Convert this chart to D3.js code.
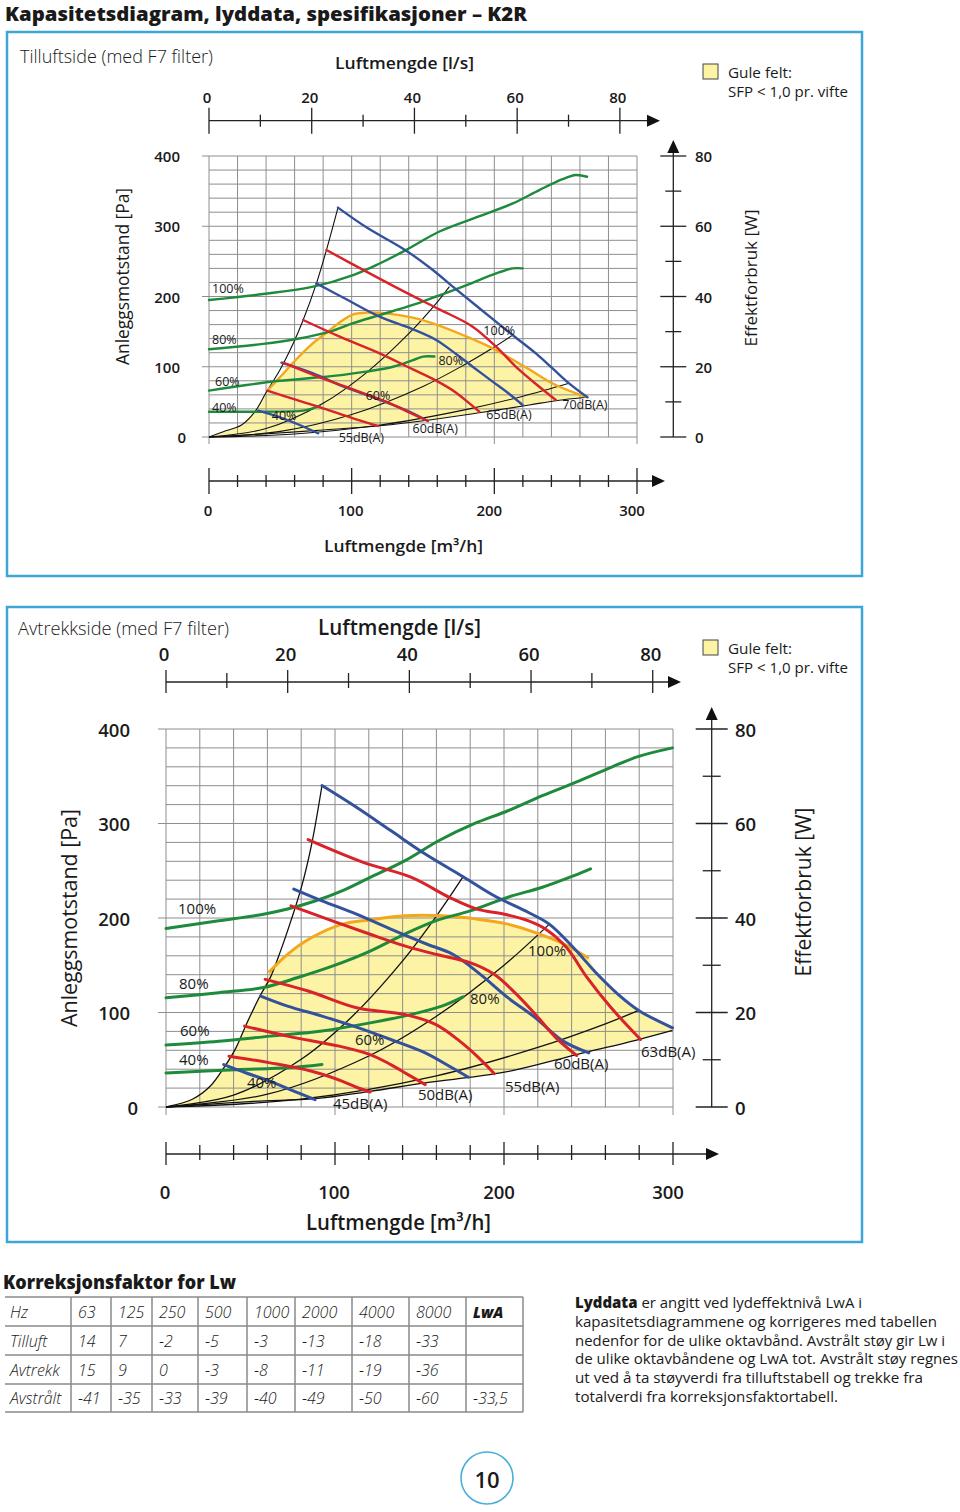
<!DOCTYPE html>
<html><head><meta charset="utf-8">
<script src="https://cdn.jsdelivr.net/npm/d3@7"></script>
<style>
body{margin:0;background:#fff}
svg{display:block}
text{font-family:"Open Sans","Noto Sans",sans-serif;fill:#1a1a1a}
</style>
</head><body>
<svg id="c" width="960" height="1512"></svg>
<script>
// ---------------- DATA (x = m³/h, y = Pa, power curves in W) ----------------
const flowTicks = [0,20,40,60,80,100,120,140,160,180,200,220,240,260,280,300];
const flowLabels = [0,100,200,300];
const paTicks = [0,20,40,60,80,100,120,140,160,180,200,220,240,260,280,300,320,340,360,380,400];
const paLabels = [0,100,200,300,400];
const lsTicks = [0,10,20,30,40,50,60,70,80];
const lsLabels = [0,20,40,60,80];
const wTicks = [0,10,20,30,40,50,60,70,80];
const wLabels = [0,20,40,60,80];

// --- Tilluft (top chart)
const tilGreen100 = [[0,39],[38,40.7],[73,42.8],[101,46.1],[119.6,49.4],[138,53.2],[161.5,58.5],[185,62.2],[213,66.5],[231.5,70.3],[247.8,73.4],[257,74.6],[265,74.1]];
const tilGreen80 = [[0,25],[38,26.5],[61.3,27.9],[84.6,30],[101,32.4],[119.6,34.7],[142.9,37.6],[159.2,40],[177.9,42.8],[201.2,46.6],[212.8,48],[219.8,48]];
const tilGreen60 = [[0,13.2],[26.3,14.8],[49.7,16],[77.6,17],[94,17.7],[110,18.6],[129,20],[143,21.9],[150,22.9],[158,22.9]];
const tilGreen40 = [[0,7.2],[38,7.2],[66,7.5],[73,8.2],[77.6,8.9]];
const tilLeft = [[0,0],[10,7.6],[22.8,17],[32.2,36],[40.3,64.5],[49.7,95.4],[59,133],[66,166.5],[75.3,218.7],[82.3,266],[90.4,326.5]];
const tilBottom = [[0,0],[38,4.3],[80,10],[119.6,16],[154.5,24.2],[189.5,34.6],[224.5,45.5],[243,51.7],[265.3,56.5]];
const tilSysA = [[0,0],[40,12],[80,48],[110,91],[140,147],[160,192],[168.5,214]];
const tilSysB = [[0,0],[50,8],[100,32],[150,72],[180,104],[200,128],[212.8,145]];
const tilSysC = [[0,0],[60,4.3],[120,17],[180,39],[220,58],[252.4,76.4]];
const tilOrange = [[40.8,66],[49.7,85],[59,105.8],[70.6,129.5],[82.3,148.5],[94,166.5],[101,174.6],[110.3,177],[124.2,176],[142.9,169.9],[156.9,161.8],[177.9,145.2],[198.8,126.2],[222,99.2],[243,74],[265.3,56.5]];
const tilBlue100 = [[90.4,326.5],[110.3,298.5],[138.2,265.2],[156.9,237.7],[170.9,214],[189.5,183.2],[212.8,145.2],[229.1,119.1],[240.8,97.7],[252.4,76.4],[265.3,56.5]];
const tilBlue80 = [[75.3,218.7],[96.3,196],[119.6,171.3],[142.9,153.3],[159.2,138.1],[173.2,118.1],[184.8,100.1],[198.8,78.8],[210.5,61.2],[219.8,45.6]];
const tilBlue60 = [[50.8,105.8],[73,90.6],[91.6,74],[110.3,59.8],[128.9,45.6],[142.9,33.7],[153.4,22.8]];
const tilBlue40 = [[34.5,37.5],[49.7,28],[63.6,17.1],[76.5,5.2]];
const tilRed70 = [[82.3,266.2],[110.3,235.4],[138.2,205.5],[161.5,181.7],[184.8,157.1],[201.2,128.6],[217.5,95.4],[231.5,71.6],[243.1,52.7]];
const tilRed65 = [[66,166.5],[91.6,142.8],[119.6,119.1],[142.9,96.3],[159.2,80.2],[173.2,63.1],[182.5,47.9],[189.5,36.1]];
const tilRed60 = [[52,105.8],[77.6,84.9],[103.3,66],[124.2,50.3],[140.6,34.6],[153.4,22.8]];
const tilRed55 = [[40.8,66],[61.3,52.7],[80,40.8],[101,26.6],[118.4,15.7]];
const tilGreenLabels = [["100%",2.1,212],["80%",2.1,139.5],["60%",4.2,78.3],["40%",2.1,42.7]];
const tilBlueLabels = [["40%",44,31.3],["60%",109.8,58.4],["80%",160.8,108.2],["100%",192.3,150.9]];
const tilDbLabels = [["55dB(A)",90.9,0],["60dB(A)",142.7,11.4],["65dB(A)",194.4,32.7],["70dB(A)",247.6,45.6]];

// --- Avtrekk (bottom chart)
const avtGreen100 = [[0,37.8],[31.2,39.4],[57.7,40.8],[71.9,41.9],[88.2,43.6],[104.5,45.8],[120.8,48.6],[141.2,52.1],[161.6,56.4],[182,59.9],[202.3,62.7],[222.7,65.9],[243,68.8],[263.4,71.9],[279.7,74.2],[299.7,76]];
const avtGreen80 = [[0,23.1],[31.2,24.2],[57.7,25.3],[78,27.4],[98.4,29.8],[120.8,33],[141.2,36.6],[159.5,39.4],[179.9,41.5],[202.3,44.4],[222.7,46.5],[241,48.9],[251.2,50.4]];
const avtGreen60 = [[0,13.1],[31.2,13.9],[61.7,15],[92.3,16.1],[120.8,17.8],[145.3,19.6],[163.6,21.4],[175.8,23.3]];
const avtGreen40 = [[0,7.2],[41.4,7.9],[71.9,8.3],[92.3,9]];
const avtLeft = [[0,0],[15.9,8.5],[26.1,21.9],[34.2,41.4],[41.4,62.6],[47.5,87.4],[55.6,117.4],[61.7,136.9],[67.8,165.2],[73.9,197],[80.1,232.4],[86.2,278.3],[92.3,340.2]];
const avtBottom = [[0,0],[51.5,6],[88.2,8.8],[120.8,16.6],[153.4,25.5],[200.3,36.8],[243,55.5],[279.7,71.4],[299.7,81]];
const avtSysA = [[0,0],[40,12.6],[80,50.5],[110,95.5],[140,154.6],[160,202],[175.8,243.7]];
const avtSysB = [[0,0],[60,13.5],[120,54],[160,96],[200,150],[226.8,193.5]];
const avtSysC = [[0,0],[80,8.3],[160,33],[220,63],[260,88],[279.7,102.2]];
const avtOrange = [[60.7,142.2],[71.9,161.6],[86.2,179.3],[104.5,193.5],[120.8,198],[141.2,202.3],[163.6,202.3],[184,198.8],[202.3,193.5],[218.6,184.6],[234.9,173],[250.2,157.4]];
const avtBlue100 = [[92.3,340.2],[112.7,317.2],[133,292.5],[153.4,267.7],[175.8,243.7],[194.2,223.5],[214.5,205.8],[226.8,193.5],[241,168.7],[255.3,140.4],[267.5,119.2],[279.7,102.2],[299.7,83.8]];
const avtBlue80 = [[75.6,230.6],[92.3,218.2],[112.7,204],[133,188.2],[153.4,173],[169.7,161.6],[186,140.4],[202.3,115.7],[218.6,94.4],[235,69.7],[250.2,57.3]];
const avtBlue60 = [[56,117.4],[71.9,106.8],[92.3,96.2],[112.7,84.5],[133,71.4],[153.4,57.3],[167.7,43.1],[178.9,31.5]];
const avtBlue40 = [[34.2,44.9],[47.5,36],[61.7,27.2],[76,16.6],[88.2,7.8]];
const avtRed63 = [[84.1,282.9],[116.7,258.9],[145.3,243],[167.7,221.8],[184,209.4],[200.3,204],[214.5,197],[224.7,188.2],[237,168.7],[249.2,136.9],[263.4,105],[280.8,71.4]];
const avtRed60 = [[74,212.9],[98.4,197],[120.8,182.8],[141.2,170.5],[159.5,161.6],[179.9,152.8],[194.2,140.4],[206.4,121],[218.6,98],[230.8,73.2],[243,54.5]];
const avtRed55 = [[58.7,135.1],[84.1,122.7],[112.7,105],[141.2,98],[159.5,87.4],[173.8,69.7],[184,53.8],[194.2,35.4]];
const avtRed50 = [[46.5,85.6],[71.9,75],[102.5,64.4],[120.8,55.5],[133,44.9],[143.2,34.3],[153.4,23.7]];
const avtRed45 = [[37.3,53.8],[61.7,46.7],[86.2,37.8],[104.5,27.2],[112.7,20.9],[120.8,15.9]];
const avtGreenLabels = [["100%",7.1,211],["80%",7.7,131.6],["60%",8.3,81.7],["40%",7.7,50.9]];
const avtBlueLabels = [["40%",47.9,26.5],["60%",111.8,72.1],["80%",179.9,115.6],["100%",214.2,166.6]];
const avtDbLabels = [["45dB(A)",98.8,4.2],["50dB(A)",149.1,13.8],["55dB(A)",200.6,22.3],["60dB(A)",229.6,46.7],["63dB(A)",281.1,59.4]];

// --- Table
const tableHeader = ["Hz","63","125","250","500","1000","2000","4000","8000","LwA"];
const rowTilluft = ["Tilluft","14","7","-2","-5","-3","-13","-18","-33",""];
const rowAvtrekk = ["Avtrekk","15","9","0","-3","-8","-11","-19","-36",""];
const rowAvstralt = ["Avstrålt","-41","-35","-33","-39","-40","-49","-50","-60","-33,5"];

const paragraph = [
  ["Lyddata"," er angitt ved lydeffektnivå LwA i"],
  ["","kapasitetsdiagrammene og korrigeres med tabellen"],
  ["","nedenfor for de ulike oktavbånd. Avstrålt støy gir Lw i"],
  ["","de ulike oktavbåndene og LwA tot. Avstrålt støy regnes"],
  ["","ut ved å ta støyverdi fra tilluftstabell og trekke fra"],
  ["","totalverdi fra korreksjonsfaktortabell."]
];

// ---------------- DRAWING ----------------
const svg = d3.select('#c');
const C = {green:'#1e8a3c', red:'#d8232a', blue:'#33519c', orange:'#f2a71e', fill:'#fdf3a4', grid:'#8e8e8e', frame:'#3ea6d6'};

svg.append('text').attr('x',5).attr('y',21).attr('font-size',19.5).attr('font-weight',800)
  .attr('textLength',522).attr('lengthAdjust','spacingAndGlyphs')
  .text('Kapasitetsdiagram, lyddata, spesifikasjoner – K2R');

svg.append('rect').attr('x',7).attr('y',32).attr('width',855).attr('height',544).attr('fill','none').attr('stroke',C.frame).attr('stroke-width',2.5);
svg.append('rect').attr('x',7).attr('y',607).attr('width',855).attr('height',635).attr('fill','none').attr('stroke',C.frame).attr('stroke-width',2.5);

function txt(g,x,y,s,size,opts={}){
  const t=g.append('text').attr('x',x).attr('y',y).attr('font-size',size).text(s)
    .attr('dominant-baseline','central');
  if(opts.anchor) t.attr('text-anchor',opts.anchor);
  if(opts.weight) t.attr('font-weight',opts.weight);
  if(opts.len) t.attr('textLength',opts.len).attr('lengthAdjust','spacingAndGlyphs');
  if(opts.fill) t.attr('fill',opts.fill);
  if(opts.rot) t.attr('transform',`rotate(-90,${x},${y})`);
  if(opts.style) t.attr('font-style',opts.style);
  return t;
}

function drawChart(cfg, d){
  const g = svg.append('g');
  const x = d3.scaleLinear().domain([0,300]).range([cfg.x0,cfg.x1]);
  const y = d3.scaleLinear().domain([0,400]).range([cfg.y0,cfg.y1]);
  const yW = d3.scaleLinear().domain([0,80]).range([cfg.y0,cfg.y1]);
  const xLs = d3.scaleLinear().domain([0,300/3.6]).range([cfg.x0,cfg.x1]);
  const line = d3.line().x(p=>x(p[0])).y(p=>y(p[1])).curve(d3.curveCatmullRom.alpha(0.5));
  const lineW = d3.line().x(p=>x(p[0])).y(p=>yW(p[1])).curve(d3.curveCatmullRom.alpha(0.5));

  // yellow fill
  const startM = d.orange[0][0], endM = d.orange[d.orange.length-1][0];
  const poly = d.left.filter(p=>p[0]<startM)
    .concat(d.orange)
    .concat(d.blue100.filter(p=>p[0]>endM))
    .concat(d.bottom.slice().reverse());
  g.append('path').attr('d',d3.line().x(p=>x(p[0])).y(p=>y(p[1])).curve(d3.curveLinear)(poly)+'Z')
    .attr('fill',C.fill).attr('stroke','none');

  // grid
  const gg = g.append('g').attr('stroke',C.grid).attr('stroke-width',1);
  flowTicks.forEach(v=>{
    gg.append('line').attr('x1',x(v)).attr('x2',x(v)).attr('y1',y(400))
      .attr('y2',y(0)+(v%100===0?cfg.ext:0));
  });
  paTicks.forEach(v=>{
    gg.append('line').attr('y1',y(v)).attr('y2',y(v)).attr('x2',x(300))
      .attr('x1',x(0)-(v%100===0?cfg.ext:0));
  });

  // black system curves
  [d.left,d.bottom].concat(d.sys).forEach(s=>{
    g.append('path').attr('d',line(s)).attr('fill','none').attr('stroke','#111').attr('stroke-width',cfg.blackW);
  });
  // orange
  g.append('path').attr('d',line(d.orange)).attr('fill','none').attr('stroke',C.orange).attr('stroke-width',cfg.lw);
  // green (power)
  d.greens.forEach(s=>g.append('path').attr('d',lineW(s)).attr('fill','none').attr('stroke',C.green).attr('stroke-width',cfg.lw).attr('stroke-linecap','round'));
  d.blues.forEach(s=>g.append('path').attr('d',line(s)).attr('fill','none').attr('stroke',C.blue).attr('stroke-width',cfg.lw).attr('stroke-linecap','round'));
  d.reds.forEach(s=>g.append('path').attr('d',line(s)).attr('fill','none').attr('stroke',C.red).attr('stroke-width',cfg.lw).attr('stroke-linecap','round'));

  // in-plot labels
  d.greenLabels.concat(d.blueLabels).concat(d.dbLabels).forEach(l=>{
    txt(g,x(l[1]),y(l[2]),l[0],cfg.lblFont);
  });

  // axes (tick crossing style)
  const ax = g.append('g').attr('stroke','#222').attr('stroke-width',1.3);
  // l/s axis (top)
  ax.append('line').attr('x1',x(0)).attr('x2',cfg.lsTip-8).attr('y1',cfg.lsY).attr('y2',cfg.lsY);
  g.append('path').attr('d',`M${cfg.lsTip},${cfg.lsY} l-13,-6 v12 z`).attr('fill','#111');
  lsTicks.forEach(v=>{
    const big = v%20===0;
    ax.append('line').attr('x1',xLs(v)).attr('x2',xLs(v))
      .attr('y1',cfg.lsY-(big?cfg.tickBig[0]:cfg.tickSmall[0])).attr('y2',cfg.lsY+(big?cfg.tickBig[1]:cfg.tickSmall[1]));
  });
  lsLabels.forEach(v=>txt(g,xLs(v)-2,cfg.lsLabelY,String(v),cfg.axFont,{anchor:'middle',weight:600}));
  txt(g,cfg.lsTitleX,cfg.lsTitleY,'Luftmengde [l/s]',cfg.lsTitleFont,{weight:600,len:cfg.lsTitleLen});

  // m3/h axis (bottom)
  ax.append('line').attr('x1',x(0)).attr('x2',cfg.mTip-8).attr('y1',cfg.mY).attr('y2',cfg.mY);
  g.append('path').attr('d',`M${cfg.mTip},${cfg.mY} l-13,-6 v12 z`).attr('fill','#111');
  flowTicks.forEach(v=>{
    const big = v%100===0;
    ax.append('line').attr('x1',x(v)).attr('x2',x(v))
      .attr('y1',cfg.mY-(big?cfg.tickBig[0]:cfg.tickSmall[0])).attr('y2',cfg.mY+(big?cfg.tickBig[1]:cfg.tickSmall[1]));
  });
  flowLabels.forEach(v=>txt(g,x(v)-(v>=200?5:1),cfg.mLabelY,String(v),cfg.axFont,{anchor:'middle',weight:600}));
  txt(g,cfg.mTitleX,cfg.mTitleY,'Luftmengde [m³/h]',cfg.mTitleFont,{weight:600,len:cfg.mTitleLen});

  // left Pa labels
  paLabels.forEach(v=>txt(g,v===0?cfg.paLabelX+cfg.zeroShift:cfg.paLabelX,y(v),String(v),cfg.axFont,{anchor:'end',weight:600}));
  txt(g,cfg.paTitleX,(cfg.y0+cfg.y1)/2-cfg.paTitleShift,'Anleggsmotstand [Pa]',cfg.paTitleFont,{anchor:'middle',rot:true,len:cfg.paTitleLen});

  // right W axis
  ax.append('line').attr('x1',cfg.wX).attr('x2',cfg.wX).attr('y1',yW(0)).attr('y2',cfg.wTip+8);
  g.append('path').attr('d',`M${cfg.wX},${cfg.wTip} l-6,13 h12 z`).attr('fill','#111');
  wTicks.forEach(v=>{
    const big = v%20===0;
    ax.append('line').attr('y1',yW(v)).attr('y2',yW(v))
      .attr('x1',cfg.wX-(big?cfg.wTickBig:cfg.wTickSmall)).attr('x2',cfg.wX+(big?cfg.wTickBig:cfg.wTickSmall));
  });
  wLabels.forEach(v=>txt(g,cfg.wLabelX,yW(v),String(v),cfg.axFont,{weight:600}));
  txt(g,cfg.wTitleX,cfg.wTitleY,'Effektforbruk [W]',cfg.wTitleFont,{anchor:'middle',rot:true,len:cfg.wTitleLen});

  // subtitle + legend
  txt(g,cfg.subX,cfg.subY,cfg.subtitle,cfg.subFont,{fill:'#333',len:cfg.subLen,weight:300});
  g.append('rect').attr('x',703).attr('y',cfg.legY-8).attr('width',15).attr('height',15).attr('fill',C.fill).attr('stroke','#444').attr('stroke-width',1);
  txt(g,728,cfg.legY,'Gule felt:',14.5,{len:64});
  txt(g,728,cfg.legY+19,'SFP < 1,0 pr. vifte',14.5,{len:120});
}

drawChart({
  x0:209,x1:637,y0:437,y1:156,ext:7,lw:2.4,blackW:1.1,lblFont:12.5,
  lsY:120.7,lsTip:660,lsLabelY:97,tickBig:[13,13],tickSmall:[6,6],axFont:15,
  lsTitleX:335,lsTitleY:62,lsTitleFont:16.5,lsTitleLen:139,
  mY:481,mTip:665,mLabelY:510,mTitleX:324,mTitleY:545,mTitleFont:17,mTitleLen:159,
  paLabelX:180,zeroShift:6,paTitleX:122,paTitleShift:20,paTitleFont:18,paTitleLen:177,
  wX:673.3,wTip:140,wTickBig:13,wTickSmall:8,wLabelX:695,wTitleX:750,wTitleY:278,wTitleFont:17,wTitleLen:137,
  subtitle:'Tilluftside (med F7 filter)',subX:20,subY:56,subFont:18,subLen:193,legY:72
},{
  left:tilLeft,bottom:tilBottom,sys:[tilSysA,tilSysB,tilSysC],orange:tilOrange,blue100:tilBlue100,
  greens:[tilGreen100,tilGreen80,tilGreen60,tilGreen40],
  blues:[tilBlue100,tilBlue80,tilBlue60,tilBlue40],
  reds:[tilRed70,tilRed65,tilRed60,tilRed55],
  greenLabels:tilGreenLabels,blueLabels:tilBlueLabels,dbLabels:tilDbLabels
});

drawChart({
  x0:166,x1:673,y0:1107,y1:729,ext:8,lw:3,blackW:1.3,lblFont:15,
  lsY:682,lsTip:681,lsLabelY:653,tickBig:[12,11],tickSmall:[9,6],axFont:18.5,
  lsTitleX:318,lsTitleY:627,lsTitleFont:21,lsTitleLen:163,
  mY:1154,mTip:719,mLabelY:1191,mTitleX:306,mTitleY:1222,mTitleFont:21,mTitleLen:185,
  paLabelX:130,zeroShift:8,paTitleX:68,paTitleShift:0,paTitleFont:22,paTitleLen:218,
  wX:711.7,wTip:707,wTickBig:16,wTickSmall:9,wLabelX:735,wTitleX:803,wTitleY:892,wTitleFont:21,wTitleLen:169,
  subtitle:'Avtrekkside (med F7 filter)',subX:18,subY:627,subFont:18.5,subLen:211,legY:648
},{
  left:avtLeft,bottom:avtBottom,sys:[avtSysA,avtSysB,avtSysC],orange:avtOrange,blue100:avtBlue100,
  greens:[avtGreen100,avtGreen80,avtGreen60,avtGreen40],
  blues:[avtBlue100,avtBlue80,avtBlue60,avtBlue40],
  reds:[avtRed63,avtRed60,avtRed55,avtRed50,avtRed45],
  greenLabels:avtGreenLabels,blueLabels:avtBlueLabels,dbLabels:avtDbLabels
});

// ---------------- TABLE ----------------
txt(svg,3,1282,'Korreksjonsfaktor for Lw',19,{weight:800,len:233});
const colX = [5,71,111,152,198,247,295,352,409,466,523];
const rowY = [1297,1326,1355,1384,1412];
const tg = svg.append('g').attr('stroke','#8a8a8a').attr('stroke-width',1.5);
rowY.forEach(v=>tg.append('line').attr('x1',5).attr('x2',523).attr('y1',v).attr('y2',v));
colX.slice(1).forEach(v=>tg.append('line').attr('x1',v).attr('x2',v).attr('y1',rowY[0]).attr('y2',rowY[4]));
[tableHeader,rowTilluft,rowAvtrekk,rowAvstralt].forEach((row,ri)=>{
  row.forEach((c,ci)=>{
    if(!c) return;
    const t = txt(svg,ci===0?10:colX[ci]+7,(rowY[ri]+rowY[ri+1])/2,c,16,{style:'italic',fill:'#333',weight:300});
    if(ri===0 && ci===9) t.attr('font-weight',800).attr('fill','#111').attr('font-size',15);
  });
});

// paragraph
const lens=[287,362,370,383,348,263];
paragraph.forEach((p,i)=>{
  const t = svg.append('text').attr('x',575).attr('y',1302+i*18.8).attr('dominant-baseline','central')
    .attr('font-size',15).attr('textLength',lens[i]).attr('lengthAdjust','spacingAndGlyphs');
  if(p[0]) t.append('tspan').attr('font-weight',800).text(p[0]);
  t.append('tspan').text(p[1]);
});

// page number
svg.append('circle').attr('cx',487).attr('cy',1478).attr('r',26).attr('fill','none').attr('stroke','#4aaed8').attr('stroke-width',1.6);
txt(svg,487,1479,'10',22,{anchor:'middle',weight:600});
</script>
</body></html>
